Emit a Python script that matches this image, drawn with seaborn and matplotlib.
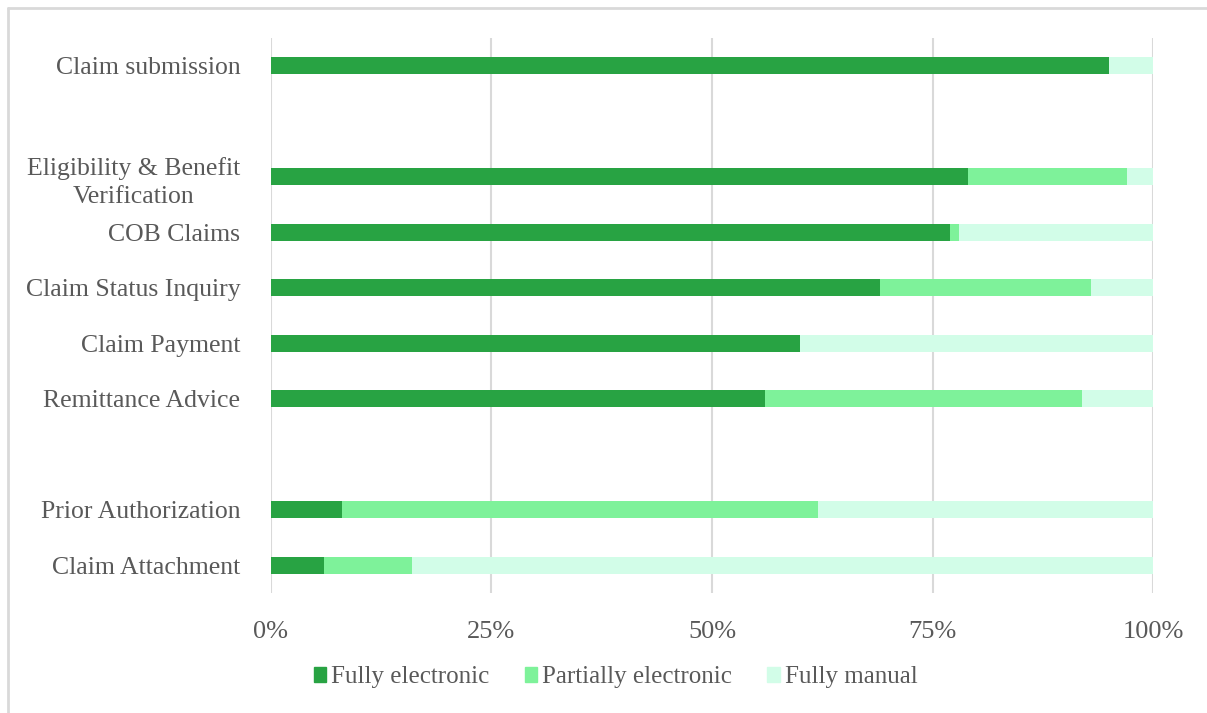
import matplotlib.pyplot as plt
import matplotlib.patches as mpatches
from matplotlib.lines import Line2D
import pandas as pd
import seaborn as sns

categories = ["Claim submission", " ", "Eligibility & Benefit\nVerification", "COB Claims",
              "Claim Status Inquiry", "Claim Payment", "Remittance Advice", "  ",
              "Prior Authorization", "Claim Attachment"]
fully_electronic = [95, 0, 79, 77, 69, 60, 56, 0, 8, 6]
partially_electronic = [0, 0, 18, 1, 24, 0, 36, 0, 54, 10]
fully_manual = [5, 0, 3, 22, 7, 40, 8, 0, 38, 84]

series_names = ["Fully electronic", "Partially electronic", "Fully manual"]
colors = ["#28a343", "#7ef29a", "#d2fde8"]

df = pd.DataFrame({"category": categories, "fe": fully_electronic,
                   "pe": partially_electronic, "fm": fully_manual})
df["cum_pe"] = df["fe"] + df["pe"]
df["cum_fm"] = df["cum_pe"] + df["fm"]

sns.set_style("white")
plt.rcParams["font.family"] = ["Liberation Serif", "DejaVu Serif"]

fig = plt.figure(figsize=(12.07, 7.13), dpi=100)
ax = fig.add_axes([0.2245, 0.1683, 0.9553 - 0.2245, 0.9467 - 0.1683])

ax.grid(axis="x", color="#d9d9d9", linewidth=1.5, zorder=0)
ax.set_axisbelow(True)

# stacked bars: draw running totals, longest first
for col, c in zip(["cum_fm", "cum_pe", "fe"], colors[::-1]):
    sns.barplot(data=df, x=col, y="category", order=categories, color=c,
                orient="h", width=0.31, ax=ax, saturation=1, linewidth=0, zorder=2)

ax.set_xlim(0, 100)
ax.set_ylim(9.5, -0.5)
ax.set_xticks([0, 25, 50, 75, 100])
ax.set_xticklabels(["0%", "25%", "50%", "75%", "100%"])
ax.set_xlabel("")
ax.set_ylabel("")
sns.despine(ax=ax, left=True, bottom=True)
ax.tick_params(axis="x", length=0, pad=20, labelsize=19, labelcolor="#595959")
ax.tick_params(axis="y", length=0, pad=22, labelsize=18.5, labelcolor="#595959")
for lab in ax.get_yticklabels():
    lab.set_multialignment("center")
    lab.set_linespacing(1.35)

handles = [mpatches.Patch(color=c, label=n) for c, n in zip(colors, series_names)]
fig.legend(handles=handles, loc="center", bbox_to_anchor=(0.51, 0.05), ncol=3,
           frameon=False, fontsize=18, labelcolor="#595959", handlelength=0.5,
           handleheight=0.5, handletextpad=0.2, columnspacing=1.4)

# only top and left frame edges are visible in the original (cropped screenshot)
fig.add_artist(Line2D([8 / 1207, 8 / 1207], [0, 1 - 8 / 713], transform=fig.transFigure,
                      color="#d9d9d9", linewidth=2))
fig.add_artist(Line2D([8 / 1207, 1], [1 - 8 / 713, 1 - 8 / 713], transform=fig.transFigure,
                      color="#d9d9d9", linewidth=2))

fig.savefig("out.png", dpi=100)
